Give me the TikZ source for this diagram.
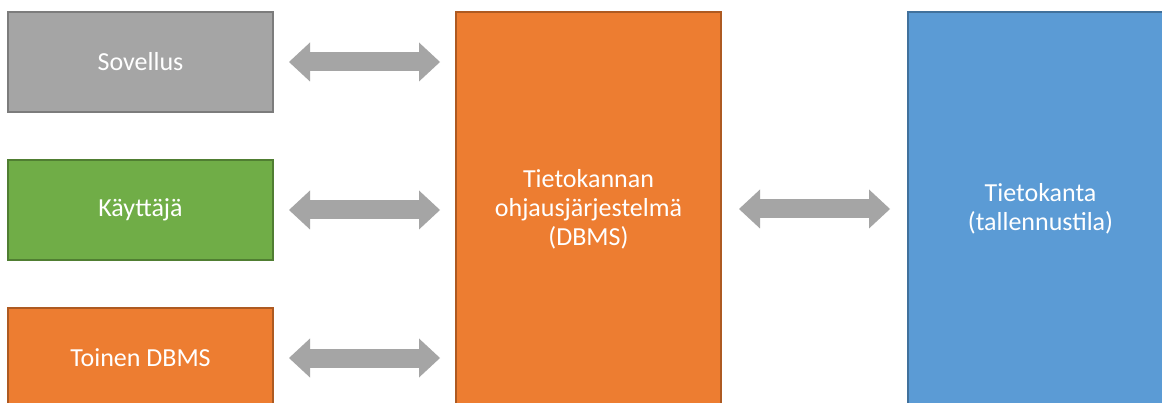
\documentclass[tikz,border=0pt]{standalone}
\usepackage{fontspec}
\setmainfont{Carlito}
\usetikzlibrary{arrows.meta}
\definecolor{grayfill}{HTML}{A5A5A5}
\definecolor{grayline}{HTML}{7C7C7C}
\definecolor{greenfill}{HTML}{70AD47}
\definecolor{greenline}{HTML}{507E32}
\definecolor{orangefill}{HTML}{ED7D31}
\definecolor{orangeline}{HTML}{AE5A21}
\definecolor{bluefill}{HTML}{5B9BD5}
\definecolor{blueline}{HTML}{41719C}
\definecolor{arrowgray}{HTML}{A5A5A5}
\tikzset{
  box/.style={rectangle, line width=2pt, minimum width=265pt, inner sep=0pt,
    text=white, align=center, font=\fontsize{26}{29}\selectfont},
  smallbox/.style={box, minimum height=100pt},
  tallbox/.style={box, minimum height=394pt},
  link/.style={line width=19pt, color=arrowgray,
    {Triangle[length=21pt,width=39pt,line width=0pt]}-{Triangle[length=21pt,width=39pt,line width=0pt]}},
}
\begin{document}
\begin{tikzpicture}[x=1pt,y=-1pt]
  \clip (0,0) rectangle (1162,403);
  \fill[white] (0,0) rectangle (1162,403);
  % client side
  \node[smallbox, fill=grayfill, draw=grayline] (app) at (140.5,62) {Sovellus};
  \node[smallbox, fill=greenfill, draw=greenline] (user) at (140.5,210) {Käyttäjä};
  \node[smallbox, fill=orangefill, draw=orangeline] (other) at (140.5,358) {Toinen DBMS};
  % DBMS and storage
  \node[tallbox, fill=orangefill, draw=orangeline] (dbms) at (588.5,209)
    {Tietokannan\\ohjausjärjestelmä\\(DBMS)};
  \node[tallbox, fill=bluefill, draw=blueline] (db) at (1040.5,209)
    {Tietokanta\\(tallennustila)};
  % two-way links
  \draw[link, shorten <=15pt, shorten >=15pt] (app.east) -- (dbms.west |- app.east);
  \draw[link, shorten <=15pt, shorten >=15pt] (user.east) -- (dbms.west |- user.east);
  \draw[link, shorten <=15pt, shorten >=15pt] (other.east) -- (dbms.west |- other.east);
  \draw[link, shorten <=17pt, shorten >=17pt] (dbms.east) -- (db.west);
\end{tikzpicture}
\end{document}
